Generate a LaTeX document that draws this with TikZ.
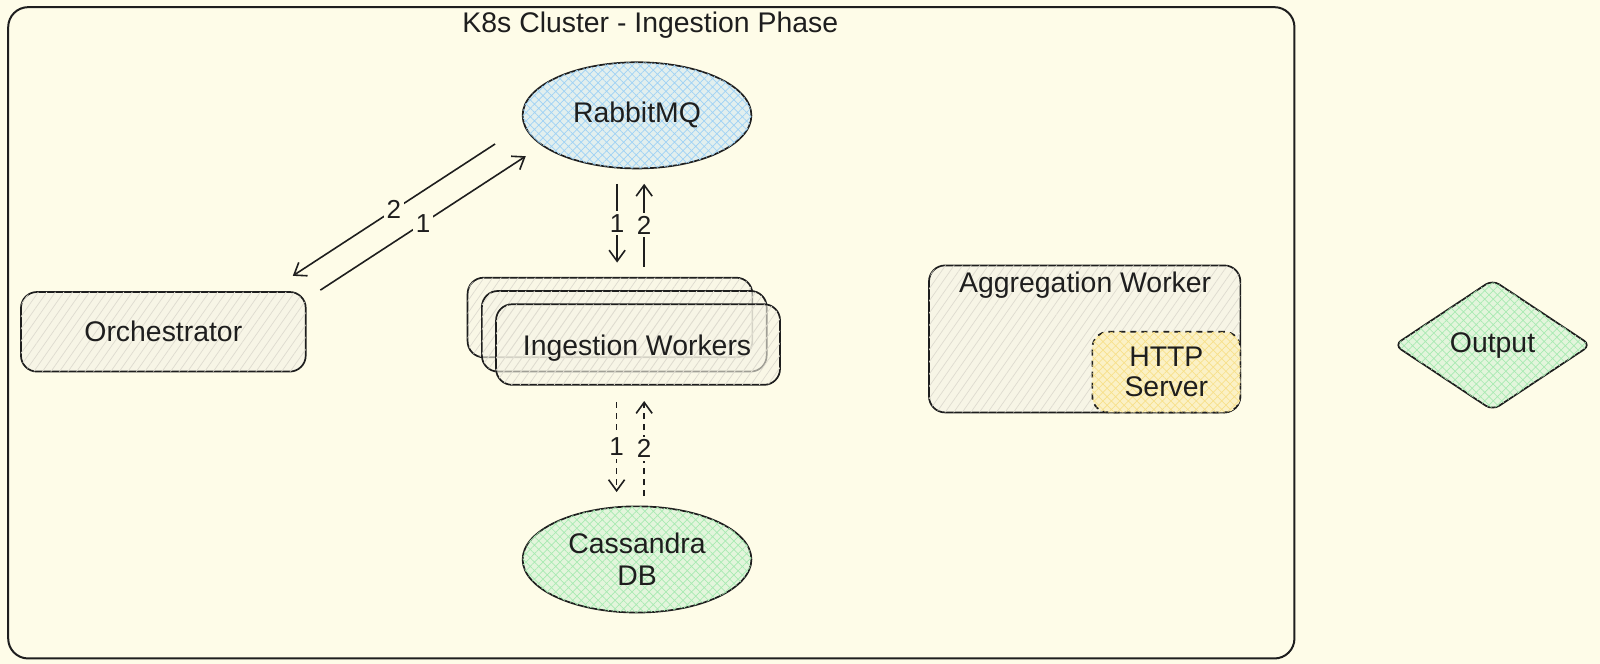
\documentclass[tikz,border=0pt]{standalone}
\usepackage{fontspec}
\setmainfont{Liberation Sans}
\usetikzlibrary{shapes.geometric,arrows.meta,patterns.meta,calc}
\definecolor{bg}{HTML}{FEFCE8}
\definecolor{ink}{HTML}{1E1E1E}
\definecolor{grayfill}{HTML}{F7F5E6}
\definecolor{grayhatch}{HTML}{DEDBCF}
\definecolor{bluefill}{HTML}{E2EFEE}
\definecolor{bluehatch}{HTML}{9FD2F5}
\definecolor{greenfill}{HTML}{E3F5DC}
\definecolor{greenhatch}{HTML}{A8EAB2}
\definecolor{yellowfill}{HTML}{FBF1C6}
\definecolor{yellowhatch}{HTML}{F7E08A}
\tikzset{
  every node/.style={font=\fontsize{14.2}{16}\selectfont, text=ink},
  box/.style={draw=ink, line width=0.85pt, rounded corners=8pt, inner sep=0pt},
  grayhatched/.style={fill=grayfill, postaction={pattern={Lines[angle=55,distance=3.5pt,line width=0.35pt]}, pattern color=grayhatch}},
  bluehatched/.style={fill=bluefill, postaction={pattern={Hatch[angle=45,distance=3pt,line width=0.35pt]}, pattern color=bluehatch}},
  greenhatched/.style={fill=greenfill, postaction={pattern={Hatch[angle=45,distance=3pt,line width=0.35pt]}, pattern color=greenhatch}},
  yellowhatched/.style={fill=yellowfill, postaction={pattern={Hatch[angle=45,distance=3pt,line width=0.35pt]}, pattern color=yellowhatch}},
  arr/.style={draw=ink, line width=0.8pt, -{Straight Barb[length=5.5pt,width=8pt,line width=0.8pt]}},
  dasharr/.style={arr, dash pattern=on 3pt off 2.5pt},
  lbl/.style={fill=bg, inner sep=1.5pt, font=\fontsize{13}{15}\selectfont},
}
\begin{document}
\begin{tikzpicture}[x=0.5105pt,y=-0.5105pt]
\useasboundingbox[fill=bg] (0,0) rectangle (1567.3,650.4);
% cluster
\node[draw=ink, line width=1pt, rounded corners=10pt, minimum width=643.2pt, minimum height=325.7pt, inner sep=0pt] (cluster) at (638,326) {};
\node (ctitle) at (637,25) {K8s Cluster - Ingestion Phase};
% RabbitMQ
\node[ellipse, draw=ink, line width=0.85pt, bluehatched, minimum width=114.4pt, minimum height=53.1pt, inner sep=0pt] (rabbit) at (624,113) {RabbitMQ};
% Orchestrator
\node[box, grayhatched, minimum width=142.4pt, minimum height=39.8pt] (orch) at (160,325) {Orchestrator};
% Ingestion workers stack
\node[box, grayhatched, fill opacity=0.6, minimum width=142.4pt, minimum height=39.8pt] (w1) at (597.5,311) {};
\node[box, grayhatched, fill opacity=0.6, minimum width=142.4pt, minimum height=40.3pt] (w2) at (611.5,324.5) {};
\node[box, grayhatched, fill opacity=0.6, minimum width=142pt, minimum height=40.3pt] (w3) at (625,337.5) {};
\node (wlabel) at (624,341) {Ingestion Workers};
% Cassandra
\node[ellipse, draw=ink, line width=0.85pt, greenhatched, minimum width=114.4pt, minimum height=53.1pt, inner sep=0pt, align=center, text width=70pt] (cass) at (624,548) {Cassandra\\[0pt]DB};
% Aggregation worker
\node[box, grayhatched, minimum width=155.7pt, minimum height=73.5pt] (agg) at (1062.5,332) {};
\node (aggtitle) at (1063,279) {Aggregation Worker};
\node[box, yellowhatched, dash pattern=on 3pt off 2.5pt, minimum width=74pt, minimum height=40.3pt, align=center] (http) at (1142.5,364.5) {HTTP\\[-1pt]Server};
% Output
\node[diamond, draw=ink, line width=0.85pt, greenhatched, rounded corners=4pt, minimum width=98.5pt, minimum height=65.5pt, inner sep=0pt] (out) at (1462,338) {Output};
% arrows orchestrator <-> rabbit
\draw[arr] ([shift={(13.5,-1)}]orch.north east) -- node[lbl] {1} ([shift={(-109,40)}]rabbit.center);
\draw[arr] ([shift={(-139,28)}]rabbit.center) -- node[lbl] {2} ([shift={(-13.5,-15)}]orch.north east);
% rabbit <-> workers
\draw[arr] ([shift={(-19.5,67)}]rabbit.center) -- node[lbl] {1} ([shift={(7,-14)}]w1.north);
\draw[arr] ([shift={(33.5,-10)}]w1.north) -- node[lbl] {2} ([shift={(7,67)}]rabbit.center);
% workers <-> cassandra
\draw[dasharr] ([shift={(-21,16)}]w3.south) -- node[lbl] {1} ([shift={(-20,-66)}]cass.center);
\draw[dasharr] ([shift={(7,-62)}]cass.center) -- node[lbl] {2} ([shift={(6,15)}]w3.south);
\end{tikzpicture}
\end{document}
